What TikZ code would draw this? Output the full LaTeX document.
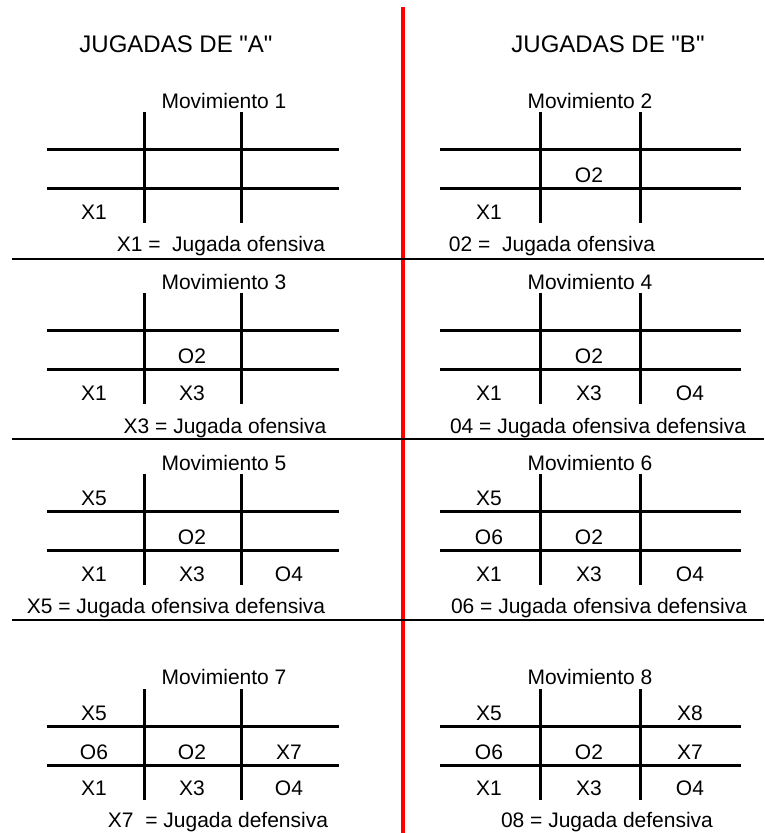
\documentclass[tikz,border=0pt]{standalone}
\usepackage{fontspec}
\setmainfont{Liberation Sans}[Ligatures=TeXOff]
\newcommand\tttgrid[5]{%
  \draw[gl] (#1,#5) -- (#4,#5);
  \draw[gl] (#1,#5+39) -- (#4,#5+39);
  \draw[gl] (#2,#5-37) -- (#2,#5+74);
  \draw[gl] (#3,#5-37) -- (#3,#5+74);}
\begin{document}
\begin{tikzpicture}[x=1pt,y=-1pt,
  gl/.style={line width=3pt},
  sepline/.style={line width=2pt},
  txt/.style={inner sep=0pt, font=\fontsize{21}{25}\selectfont, text height=15pt, text depth=0pt},
  head/.style={inner sep=0pt, font=\fontsize{24}{28}\selectfont, text height=17.2pt, text depth=0pt}]
\useasboundingbox (0,0) rectangle (764,833);
% divider
\draw[red, line width=4pt] (403,7) -- (403,833);
\draw[sepline] (12,258.5) -- (764,258.5);
\draw[sepline] (12,438.5) -- (764,438.5);
\draw[sepline] (12,619.5) -- (764,619.5);
% headings
\node[head] (hA) at (176,44) {JUGADAS DE "A"};
\node[head] (hB) at (608,44) {JUGADAS DE "B"};
% grids
\tttgrid{47}{144}{241}{339}{149}
\tttgrid{440}{540}{640}{741}{149}
\tttgrid{47}{144}{241}{339}{330}
\tttgrid{440}{540}{640}{741}{330}
\tttgrid{47}{144}{241}{339}{511}
\tttgrid{440}{540}{640}{741}{511}
\tttgrid{47}{144}{241}{339}{726}
\tttgrid{440}{540}{640}{741}{726}
% move 1
\node[txt] (mv1) at (224,101) {Movimiento 1};
\node[txt] (a1x1) at (94,212) {X1};
\node[txt] (cap1) at (221,244) {X1 = \ Jugada ofensiva};
% move 2
\node[txt] (mv2) at (590,101) {Movimiento 2};
\node[txt] (b2o2) at (589,175) {O2};
\node[txt] (b2x1) at (489,212) {X1};
\node[txt] (cap2) at (552,244) {02 = \ Jugada ofensiva};
% move 3
\node[txt] (mv3) at (224,282) {Movimiento 3};
\node[txt] (a3o2) at (192,356) {O2};
\node[txt] (a3x1) at (94,393) {X1};
\node[txt] (a3x3) at (192,393) {X3};
\node[txt] (cap3) at (225,426) {X3 = Jugada ofensiva};
% move 4
\node[txt] (mv4) at (590,282) {Movimiento 4};
\node[txt] (b4o2) at (589,356) {O2};
\node[txt] (b4x1) at (489,393) {X1};
\node[txt] (b4x3) at (589,393) {X3};
\node[txt] (b4o4) at (690,393) {O4};
\node[txt] (cap4) at (598,426) {04 = Jugada ofensiva defensiva};
% move 5
\node[txt] (mv5) at (224,463) {Movimiento 5};
\node[txt] (a5x5) at (94,498) {X5};
\node[txt] (a5o2) at (192,537) {O2};
\node[txt] (a5x1) at (94,574) {X1};
\node[txt] (a5x3) at (192,574) {X3};
\node[txt] (a5o4) at (289,574) {O4};
\node[txt] (cap5) at (176,606) {X5 = Jugada ofensiva defensiva};
% move 6
\node[txt] (mv6) at (590,463) {Movimiento 6};
\node[txt] (b6x5) at (489,498) {X5};
\node[txt] (b6o6) at (489,537) {O6};
\node[txt] (b6o2) at (589,537) {O2};
\node[txt] (b6x1) at (489,574) {X1};
\node[txt] (b6x3) at (589,574) {X3};
\node[txt] (b6o4) at (690,574) {O4};
\node[txt] (cap6) at (599,606) {06 = Jugada ofensiva defensiva};
% move 7
\node[txt] (mv7) at (224,677) {Movimiento 7};
\node[txt] (a7x5) at (94,713) {X5};
\node[txt] (a7o6) at (94,752) {O6};
\node[txt] (a7o2) at (192,752) {O2};
\node[txt] (a7x7) at (289,752) {X7};
\node[txt] (a7x1) at (94,788) {X1};
\node[txt] (a7x3) at (192,788) {X3};
\node[txt] (a7o4) at (289,788) {O4};
\node[txt] (cap7) at (218,820) {X7 \ = Jugada defensiva};
% move 8
\node[txt] (mv8) at (590,677) {Movimiento 8};
\node[txt] (b8x5) at (489,713) {X5};
\node[txt] (b8x8) at (690,713) {X8};
\node[txt] (b8o6) at (489,752) {O6};
\node[txt] (b8o2) at (589,752) {O2};
\node[txt] (b8x7) at (690,752) {X7};
\node[txt] (b8x1) at (489,788) {X1};
\node[txt] (b8x3) at (589,788) {X3};
\node[txt] (b8o4) at (690,788) {O4};
\node[txt] (cap8) at (607,820) {08 = Jugada defensiva};
\end{tikzpicture}
\end{document}
